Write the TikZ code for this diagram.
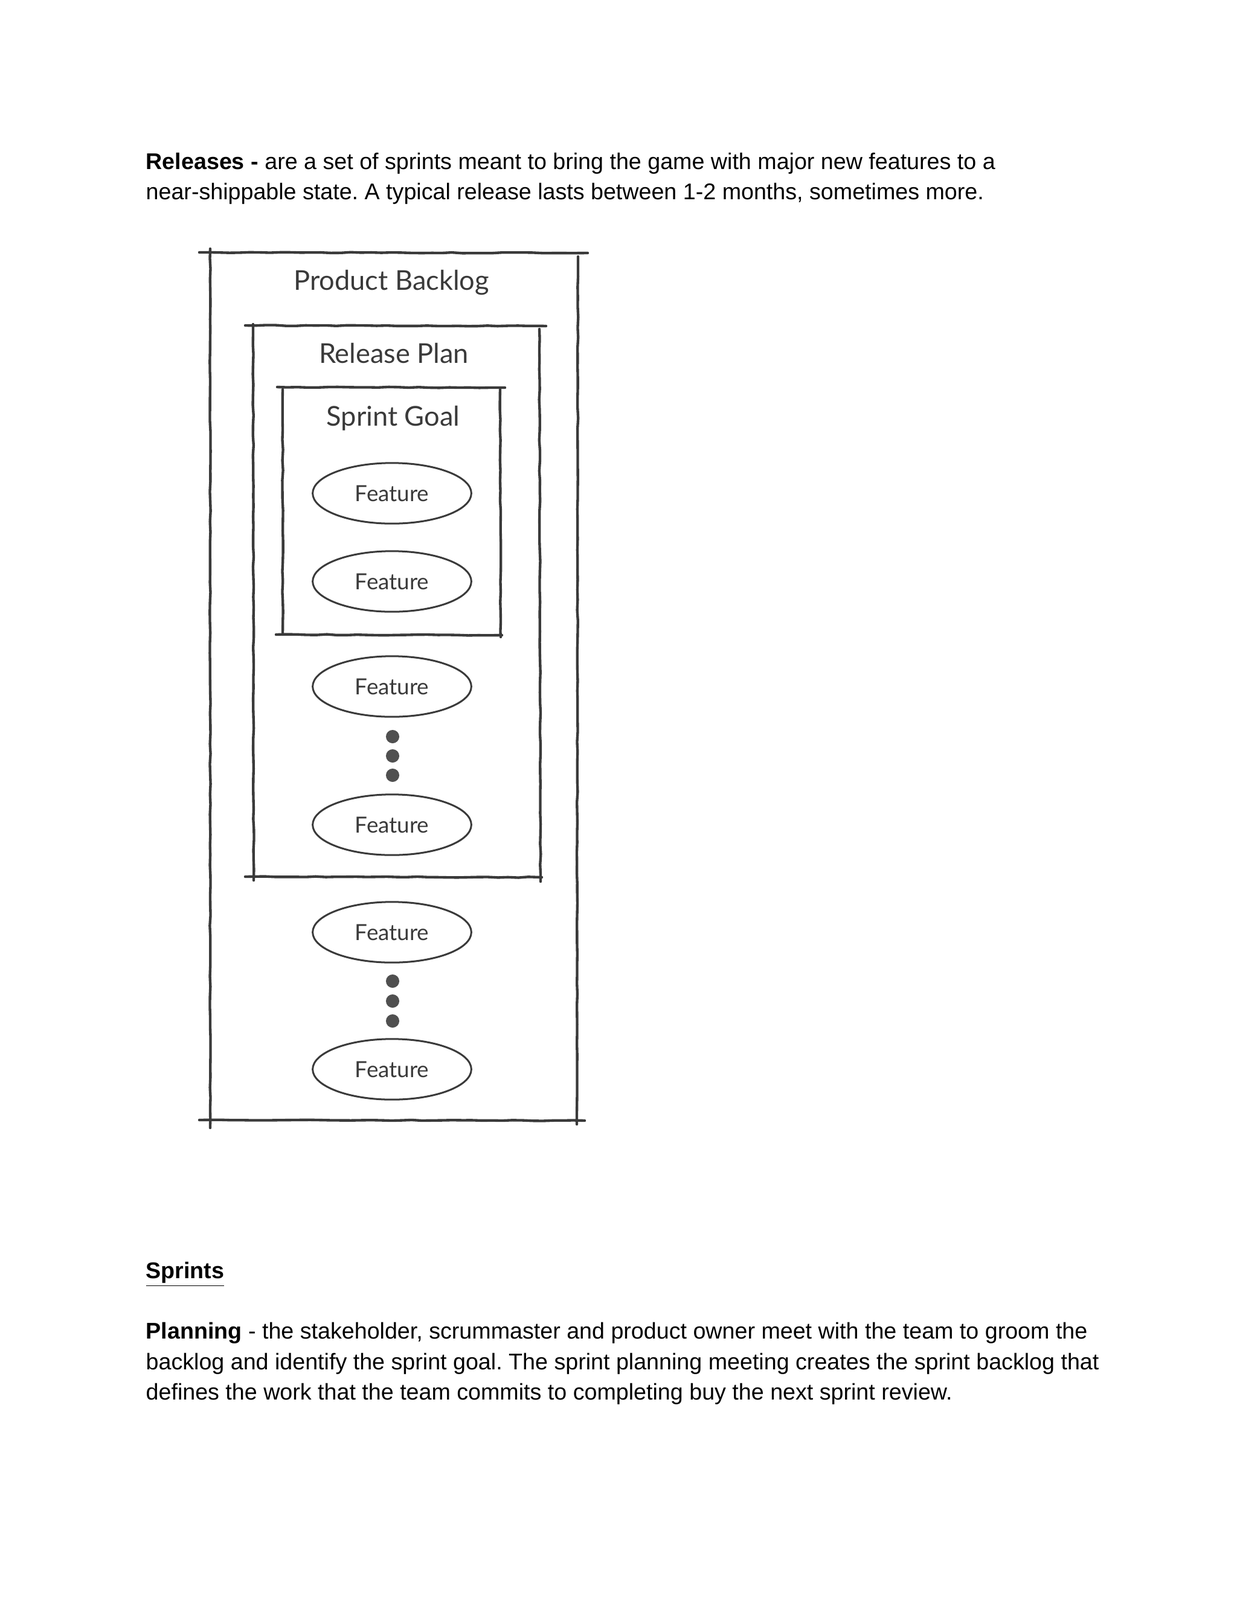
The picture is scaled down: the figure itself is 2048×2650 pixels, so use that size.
\documentclass[tikz,border=0pt]{standalone}
\usepackage{fontspec}
\setmainfont{Liberation Sans}
\newfontfamily\handfont{Lato}
\usetikzlibrary{shapes.geometric,decorations.pathmorphing}

\definecolor{pencil}{HTML}{3A3A3A}
\definecolor{dotgray}{HTML}{505050}

\tikzset{
  sketch/.style={pencil, line width=1.3pt, line cap=round,
    decorate, decoration={random steps, segment length=5pt, amplitude=0.2pt}},
  feature/.style={ellipse, draw=pencil, line width=0.9pt,
    minimum width=78.5pt, minimum height=30pt, inner sep=0pt,
    font=\handfont\fontsize{11}{11}\selectfont, text=pencil},
  boxlabel/.style={font=\handfont\fontsize{13.5}{13.5}\selectfont, text=pencil, inner sep=0pt},
  dotmark/.style={circle, fill=dotgray, minimum size=6.6pt, inner sep=0pt},
  bodytext/.style={anchor=base west, inner sep=0pt, font=\fontsize{11.25}{13}\selectfont}
}

\begin{document}
\frenchspacing
\begin{tikzpicture}[x=0.298828pt, y=-0.298828pt]
  \useasboundingbox (0,0) rectangle (2048,2650);

  % text above the picture
  \node[bodytext] (rel1) at (241,280) {\textbf{Releases -} are a set of sprints meant to bring the game with major new features to a};
  \node[bodytext] (rel2) at (241,330) {near-shippable state. A typical release lasts between 1-2 months, sometimes more.};

  % outer box: product backlog
  \draw[sketch] (330,418) -- (973,419);
  \draw[sketch] (348,412) -- (348,1868);
  \draw[sketch] (957,425) -- (955,1862);
  \draw[sketch] (330,1855) -- (968,1856);
  \node[boxlabel] (pb) at (648,468) {Product Backlog};

  % middle box: release plan
  \draw[sketch] (406,539) -- (904,540);
  \draw[sketch] (419,537) -- (420,1458);
  \draw[sketch] (893,545) -- (895,1460);
  \draw[sketch] (406,1452) -- (897,1453);
  \node[boxlabel] (rp) at (652,585) {Release Plan};

  % inner box: sprint goal
  \draw[sketch] (459,641) -- (836,642);
  \draw[sketch] (468,645) -- (468,1051);
  \draw[sketch] (828,645) -- (829,1055);
  \draw[sketch] (457,1051) -- (831,1052);
  \node[boxlabel] (sg) at (651,693) {Sprint Goal};

  % features of the sprint goal
  \node[feature] (f1) at (649,817) {Feature};
  \node[feature] (f2) at (649,963) {Feature};

  % features of the release plan
  \node[feature] (f3) at (649,1137) {Feature};
  \node[dotmark] (d1) at (650,1220) {};
  \node[dotmark] (d2) at (650,1252) {};
  \node[dotmark] (d3) at (650,1284) {};
  \node[feature] (f4) at (649,1366) {Feature};

  % features left in the backlog
  \node[feature] (f5) at (649,1544) {Feature};
  \node[dotmark] (d4) at (650,1625) {};
  \node[dotmark] (d5) at (650,1658) {};
  \node[dotmark] (d6) at (650,1691) {};
  \node[feature] (f6) at (649,1771) {Feature};

  % text below the picture
  \node[bodytext] (spr) at (241,2117) {\textbf{\underline{Sprints}}};
  \node[bodytext] (pl1) at (241,2217) {\textbf{Planning} - the stakeholder, scrummaster and product owner meet with the team to groom the};
  \node[bodytext] (pl2) at (241,2268) {backlog and identify the sprint goal. The sprint planning meeting creates the sprint backlog that};
  \node[bodytext] (pl3) at (241,2318) {defines the work that the team commits to completing buy the next sprint review.};
\end{tikzpicture}
\end{document}
